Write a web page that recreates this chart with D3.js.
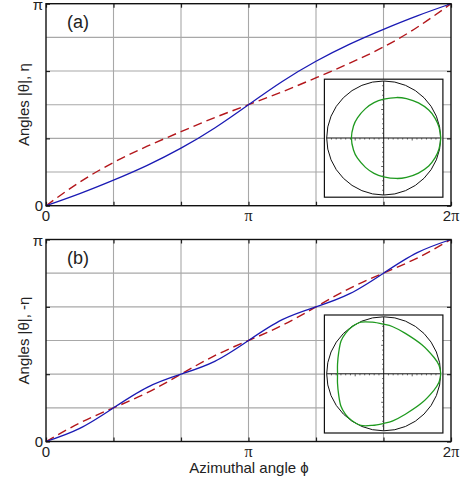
<!DOCTYPE html>
<html lang="en">
<head>
    <meta charset="UTF-8">
    <title>Angles vs azimuthal angle</title>
    <style>
        body { margin: 0; background: #fff; }
        text { font-family: "Liberation Sans", Arial, sans-serif; }
    </style>
</head>
<body>
    <div id="my_dataviz"></div>
    <script src="https://d3js.org/d3.v7.min.js"></script>
    <script>

        // azimuthal angle phi, in degrees (0 .. 2pi)
        var phi = [0, 30, 60, 90, 120, 150, 180, 210, 240, 270, 300, 330, 360];

        // panel (a): |theta| (blue) and eta (red dashed), degrees
        var thetaA = [0, 10.8, 22.8, 36, 51.3, 69.3, 90, 110.7, 128.7, 144, 157.2, 169.2, 180];
        var etaA   = [0, 21, 38.5, 53, 66, 78.5, 90, 101.5, 114, 127, 141.5, 159, 180];

        // panel (b): |theta| (blue) and -eta (red dashed), degrees
        var thetaB = [0, 11.7, 30, 48.3, 60, 71.4, 90, 108.6, 120, 131.7, 150, 168.3, 180];
        var etaB   = [0, 16.5, 30, 43.5, 60, 76.5, 90, 103.5, 120, 136.5, 150, 163.5, 180];

        // insets: polarisation curves, points in units of the circle radius (upper half, mirrored below)
        var insetAx = [1.0, 0.97, 0.90, 0.79, 0.61, 0.40, 0.22, 0.00, -0.17, -0.32, -0.46, -0.53, -0.567];
        var insetAy = [0.0, 0.19, 0.35, 0.49, 0.615, 0.69, 0.71, 0.68, 0.62, 0.515, 0.355, 0.21, 0.0];
        var insetBx = [1.0, 0.97, 0.88, 0.67, 0.38, 0.15, 0.0, -0.2, -0.40, -0.56, -0.67, -0.75, -0.79, -0.81, -0.81];
        var insetBy = [0.0, 0.15, 0.29, 0.51, 0.71, 0.83, 0.87, 0.905, 0.905, 0.82, 0.71, 0.57, 0.37, 0.17, 0.0];

        var xTickVals = [0, 60, 120, 180, 240, 300, 360];
        var xTickText = {0: "0", 180: "π", 360: "2π"};
        var yTickVals = [0, 60, 120, 180];
        var yTickText = {0: "0", 180: "π"};
        var yGridVals = [30, 60, 90, 120, 150];

        var width = 468, height = 483;
        var svg = d3.select("#my_dataviz").append("svg")
            .attr("width", width).attr("height", height);

        var x = d3.scaleLinear().domain([0, 360]).range([46, 451]);

        function mirror(xs, ys) {
            var pts = xs.map(function (v, i) { return [v, ys[i]]; });
            for (var i = xs.length - 2; i > 0; i--) pts.push([xs[i], -ys[i]]);
            return pts;
        }

        function panel(top, bottom, theta, eta, label, ylabel, insetPts) {
            var y = d3.scaleLinear().domain([0, 180]).range([bottom, top]);
            var g = svg.append("g");

            // grid
            g.selectAll(".gx").data(xTickVals.slice(1, -1)).enter().append("line")
                .attr("x1", x).attr("x2", x).attr("y1", top).attr("y2", bottom)
                .attr("stroke", "#a8a8a8").attr("stroke-width", 1.1);
            g.selectAll(".gy").data(yGridVals).enter().append("line")
                .attr("y1", y).attr("y2", y).attr("x1", x(0)).attr("x2", x(360))
                .attr("stroke", "#a8a8a8").attr("stroke-width", 1.1);

            // ticks, inward, on all four sides
            g.append("g").attr("transform", "translate(0," + bottom + ")")
                .call(d3.axisBottom(x).tickValues(xTickVals).tickSize(-4).tickFormat(""))
                .call(function (a) { a.select(".domain").remove(); });
            g.append("g").attr("transform", "translate(0," + top + ")")
                .call(d3.axisTop(x).tickValues(xTickVals).tickSize(-4).tickFormat(""))
                .call(function (a) { a.select(".domain").remove(); });
            g.append("g").attr("transform", "translate(" + x(0) + ",0)")
                .call(d3.axisLeft(y).tickValues(yTickVals).tickSize(-4).tickFormat(""))
                .call(function (a) { a.select(".domain").remove(); });
            g.append("g").attr("transform", "translate(" + x(360) + ",0)")
                .call(d3.axisRight(y).tickValues(yTickVals).tickSize(-4).tickFormat(""))
                .call(function (a) { a.select(".domain").remove(); });
            g.selectAll(".tick line").attr("stroke", "#222").attr("stroke-width", 1.2);

            // curves
            var line = d3.line().curve(d3.curveNatural)
                .x(function (d) { return x(d[0]); }).y(function (d) { return y(d[1]); });
            g.append("path").datum(phi.map(function (p, i) { return [p, eta[i]]; }))
                .attr("d", line).attr("fill", "none").attr("stroke", "#b3161b")
                .attr("stroke-width", 1.4).attr("stroke-dasharray", "9,5");
            g.append("path").datum(phi.map(function (p, i) { return [p, theta[i]]; }))
                .attr("d", line).attr("fill", "none").attr("stroke", "#1a1ab4")
                .attr("stroke-width", 1.3);

            // frame
            g.append("rect").attr("x", x(0)).attr("y", top)
                .attr("width", x(360) - x(0)).attr("height", bottom - top)
                .attr("fill", "none").attr("stroke", "#111").attr("stroke-width", 1.4);

            // tick labels
            g.selectAll(".xl").data(xTickVals.filter(function (v) { return xTickText[v]; }))
                .enter().append("text")
                .attr("x", x).attr("y", bottom + 15).attr("text-anchor", "middle")
                .attr("font-size", 15).attr("fill", "#222")
                .each(function (v) {
                    var t = d3.select(this), s = xTickText[v];
                    if (s.indexOf("π") >= 0) {
                        if (s.length > 1) t.append("tspan").text(s.slice(0, -1));
                        t.append("tspan").attr("font-family", "Liberation Serif, serif").attr("font-size", 16).text("π");
                    } else t.text(s);
                });
            g.selectAll(".yl").data(yTickVals.filter(function (v) { return yTickText[v]; }))
                .enter().append("text")
                .attr("x", x(0) - 3).attr("y", function (v) { return v ? y(v) + 6.5 : y(v) + 5; })
                .attr("text-anchor", "end").attr("fill", "#222")
                .attr("font-size", function (v) { return v ? 15 : 15; })
                .attr("font-family", function (v) { return v ? "Liberation Serif, serif" : null; })
                .text(function (v) { return yTickText[v]; });

            // panel label
            g.append("text").attr("x", 67).attr("y", top + 24)
                .attr("font-family", "Liberation Serif, serif").attr("font-size", 18).attr("fill", "#222")
                .text(label);

            // y axis title
            g.append("text")
                .attr("transform", "translate(29," + ((top + bottom) / 2) + ") rotate(-90)")
                .attr("text-anchor", "middle").attr("font-size", 15).attr("fill", "#222")
                .text(ylabel);

            // inset
            var cx = 383.7, cy = top + 134.3, r = 57;
            var ix = d3.scaleLinear().domain([-1, 1]).range([cx - r, cx + r]);
            var iy = d3.scaleLinear().domain([-1, 1]).range([cy + r, cy - r]);
            var ig = g.append("g");
            ig.append("rect").attr("x", cx - 59.3).attr("y", cy - 58.8)
                .attr("width", 118.5).attr("height", 118)
                .attr("fill", "#fff").attr("stroke", "#111").attr("stroke-width", 1.2);
            ig.append("circle").attr("cx", cx).attr("cy", cy).attr("r", r)
                .attr("fill", "none").attr("stroke", "#111").attr("stroke-width", 1);
            ig.append("line").attr("x1", ix(-1)).attr("x2", ix(1)).attr("y1", cy).attr("y2", cy)
                .attr("stroke", "#111").attr("stroke-width", 1);
            ig.append("line").attr("y1", iy(-1)).attr("y2", iy(1)).attr("x1", cx).attr("x2", cx)
                .attr("stroke", "#111").attr("stroke-width", 1);
            var minor = d3.range(-11, 12).filter(function (k) { return k !== 0; }).map(function (k) { return k / 12; });
            ig.selectAll(".hx").data(minor).enter().append("line")
                .attr("x1", ix).attr("x2", ix)
                .attr("y1", cy).attr("y2", function (v) { return cy + (Math.abs(v) === 0.5 ? 2.5 : 1.5); })
                .attr("stroke", "#333").attr("stroke-width", 0.8);
            ig.selectAll(".hy").data(minor).enter().append("line")
                .attr("y1", iy).attr("y2", iy)
                .attr("x1", cx).attr("x2", function (v) { return cx - (Math.abs(v) === 0.5 ? 2.5 : 1.5); })
                .attr("stroke", "#333").attr("stroke-width", 0.8);
            ig.append("path").datum(insetPts)
                .attr("d", d3.line().curve(d3.curveCardinalClosed.tension(0))
                    .x(function (d) { return ix(d[0]); }).y(function (d) { return iy(d[1]); }))
                .attr("fill", "none").attr("stroke", "#1f9a1f").attr("stroke-width", 1.3);
        }

        panel(3.7, 205.7, thetaA, etaA, "(a)", "Angles |θ|, η", mirror(insetAx, insetAy));
        panel(239.5, 441.5, thetaB, etaB, "(b)", "Angles |θ|, -η", mirror(insetBx, insetBy));

        svg.append("text").attr("x", 249).attr("y", 473).attr("text-anchor", "middle")
            .attr("font-size", 15).attr("fill", "#222").text("Azimuthal angle ϕ");

    </script>
</body>
</html>
